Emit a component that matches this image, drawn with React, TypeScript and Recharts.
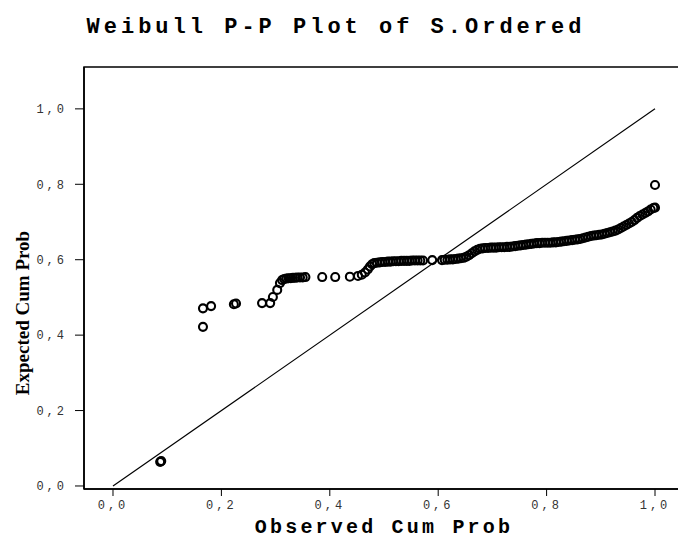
import React from 'react'
import {
  ScatterChart,
  Scatter,
  XAxis,
  YAxis,
  ReferenceLine,
  ReferenceArea
} from 'recharts'

const observedCumProb = [
  0.087, 0.089, 0.166, 0.166, 0.181, 0.223, 0.227, 0.275, 0.29, 0.295, 0.303, 0.308,
  0.312, 0.316, 0.32, 0.324, 0.328, 0.332, 0.336, 0.34, 0.345, 0.35, 0.355,
  0.386, 0.41, 0.437, 0.452, 0.459, 0.465, 0.47, 0.474, 0.478,
  0.482, 0.487, 0.492, 0.497, 0.502, 0.507, 0.512, 0.517, 0.522, 0.527, 0.532, 0.537,
  0.542, 0.547, 0.552, 0.557, 0.562, 0.567, 0.572,
  0.589, 0.607,
  0.612, 0.617, 0.622, 0.627, 0.632, 0.637, 0.642, 0.647, 0.652, 0.657, 0.662, 0.667,
  0.672, 0.677, 0.682, 0.687, 0.692, 0.697, 0.702, 0.707, 0.712, 0.717, 0.722, 0.727,
  0.732, 0.737, 0.742, 0.747, 0.752, 0.757, 0.762, 0.767, 0.772, 0.777, 0.782, 0.787,
  0.792, 0.797, 0.802, 0.807, 0.812, 0.817, 0.822, 0.827, 0.832, 0.837, 0.842, 0.847,
  0.852, 0.857, 0.862, 0.867, 0.872, 0.877, 0.882, 0.887, 0.892, 0.897, 0.902, 0.907,
  0.912, 0.917, 0.922, 0.927, 0.932, 0.937, 0.942, 0.947, 0.952, 0.957, 0.962, 0.967,
  0.972, 0.977, 0.982, 0.987, 0.992, 0.997, 1.0, 1.0
]

const expectedCumProb = [
  0.064, 0.066, 0.422, 0.471, 0.477, 0.482, 0.484, 0.485, 0.485, 0.501, 0.52, 0.538,
  0.546, 0.549, 0.55, 0.551, 0.551, 0.552, 0.552, 0.553, 0.553, 0.553, 0.554,
  0.554, 0.554, 0.555, 0.557, 0.56, 0.566, 0.574, 0.582, 0.588,
  0.591, 0.592, 0.593, 0.594, 0.594, 0.595, 0.595, 0.596, 0.596, 0.596, 0.597, 0.597,
  0.597, 0.597, 0.598, 0.598, 0.598, 0.598, 0.598,
  0.599, 0.599,
  0.6, 0.6, 0.601, 0.601, 0.602, 0.603, 0.604, 0.605, 0.608, 0.612, 0.617, 0.622,
  0.626, 0.629, 0.63, 0.631, 0.631, 0.632, 0.632, 0.632, 0.633, 0.633, 0.633, 0.634,
  0.634, 0.635, 0.636, 0.637, 0.638, 0.639, 0.64, 0.641, 0.642, 0.643, 0.644, 0.644,
  0.645, 0.645, 0.645, 0.645, 0.646, 0.646, 0.647, 0.648, 0.649, 0.65, 0.651, 0.652,
  0.653, 0.654, 0.655, 0.657, 0.659, 0.661, 0.663, 0.664, 0.665, 0.666, 0.667, 0.669,
  0.671, 0.673, 0.675, 0.677, 0.68, 0.684, 0.688, 0.692, 0.696, 0.7, 0.705, 0.711,
  0.716, 0.72, 0.724, 0.728, 0.733, 0.737, 0.738, 0.798
]

const xTicks = [0, 0.2, 0.4, 0.6, 0.8, 1.0]
const yTicks = [0, 0.2, 0.4, 0.6, 0.8, 1.0]

const data = observedCumProb.map((x, i) => ({ x, y: expectedCumProb[i] }))

const fmt = (v: number) => v.toFixed(1).replace('.', ',')

const tickStyle = {
  fontFamily: 'Liberation Mono',
  fontSize: 12,
  fill: '#333',
  letterSpacing: 3
}

const OpenCircle = (props: any) => {
  const { cx, cy } = props
  if (cx == null || cy == null) return null
  return <circle cx={cx} cy={cy} r={4} fill="none" stroke="#000" strokeWidth={2.1} />
}

export default function App() {
  return (
    <div
      style={{
        position: 'fixed',
        left: 0,
        top: 0,
        width: 678,
        height: 539,
        overflow: 'hidden',
        background: '#fff'
      }}
    >
      <div
        style={{
          position: 'absolute',
          left: 0,
          width: 672,
          top: 15,
          textAlign: 'center',
          fontFamily: 'Liberation Mono',
          fontWeight: 'bold',
          fontSize: 22,
          letterSpacing: 4,
          color: '#000',
          lineHeight: '26px'
        }}
      >
        Weibull P-P Plot of S.Ordered
      </div>
      <div style={{ position: 'absolute', left: 0, top: 0 }}>
        <ScatterChart
          width={700}
          height={539}
          margin={{ top: 67, right: 16, bottom: 20, left: 24 }}
        >
          <XAxis
            type="number"
            dataKey="x"
            domain={[-0.0535, 1.0535]}
            ticks={xTicks}
            tickFormatter={fmt}
            height={30}
            tickSize={7}
            tickMargin={4}
            tick={tickStyle}
            axisLine={{ stroke: '#000', strokeWidth: 1.5 }}
            tickLine={{ stroke: '#000' }}
            allowDataOverflow
            label={{
              content: () => (
                <text
                  x={384}
                  y={533}
                  textAnchor="middle"
                  fontFamily="Liberation Mono"
                  fontWeight="bold"
                  fontSize={20}
                  letterSpacing={3.2}
                  fill="#000"
                >
                  Observed Cum Prob
                </text>
              )
            }}
          />
          <YAxis
            type="number"
            dataKey="y"
            domain={[-0.008, 1.111]}
            ticks={yTicks}
            tickFormatter={fmt}
            width={60}
            tickSize={9}
            tickMargin={8}
            tick={tickStyle}
            axisLine={{ stroke: '#000', strokeWidth: 1.5 }}
            tickLine={{ stroke: '#000' }}
            allowDataOverflow
            label={{
              content: () => (
                <text
                  x={22}
                  y={313}
                  transform="rotate(-90, 22, 313)"
                  textAnchor="middle"
                  dominantBaseline="central"
                  fontFamily="Liberation Serif"
                  fontWeight="bold"
                  fontSize={19}
                  fill="#000"
                >
                  Expected Cum Prob
                </text>
              )
            }}
          />
          <ReferenceArea
            x1={-0.0535}
            x2={1.0535}
            y1={-0.008}
            y2={1.111}
            fill="none"
            stroke="#000"
            strokeWidth={1.5}
            ifOverflow="visible"
          />
          <ReferenceLine
            segment={[
              { x: 0, y: 0 },
              { x: 1, y: 1 }
            ]}
            stroke="#000"
            strokeWidth={1.2}
            ifOverflow="visible"
          />
          <Scatter data={data} shape={OpenCircle} isAnimationActive={false} />
        </ScatterChart>
      </div>
    </div>
  )
}
